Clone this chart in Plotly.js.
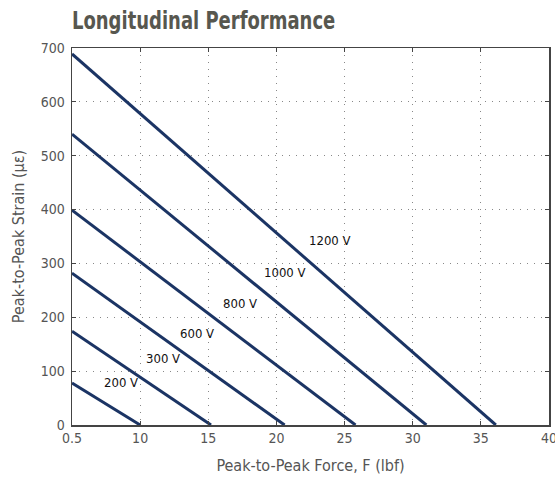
<!DOCTYPE html>
<html><head><meta charset="utf-8">
<script src="https://cdn.plot.ly/plotly-3.0.1.min.js"></script>
<style>body{margin:0;background:#fff}#c{width:555px;height:482px}</style>
</head><body><div id="c"></div>
<script>
// Voltage series: each line goes from left edge (x=5) to its x-intercept
const voltages = ["200 V","300 V","600 V","800 V","1000 V","1200 V"];
const startForce = [5, 5, 5, 5, 5, 5];
const startStrain = [78, 174, 282, 399, 540, 689];
const endForce = [10, 15.2, 20.6, 25.8, 31.0, 36.1];
const endStrain = [0, 0, 0, 0, 0, 0];
const labelForce = [8.6, 11.7, 14.2, 17.3, 20.6, 23.9];
const labelStrain = [78, 124, 169, 225, 284, 343];
const xTickVals = [5, 10, 15, 20, 25, 30, 35, 40];
const xTickText = ["0.5","10","15","20","25","30","35","40"];
const yTickVals = [0,100,200,300,400,500,600,700];

const font = "'DejaVu Sans Condensed', 'Liberation Sans Narrow', 'Liberation Sans', sans-serif";
const traces = voltages.map((v,i)=>({
  x:[startForce[i], endForce[i]], y:[startStrain[i], endStrain[i]],
  mode:'lines', line:{color:'#1b3464', width:3}, name:v, showlegend:false, hoverinfo:'skip'
}));
const annotations = voltages.map((v,i)=>({
  x:labelForce[i], y:labelStrain[i], text:v, showarrow:false,
  font:{family:font, size:13, color:'#111'}, xanchor:'center', yanchor:'middle'
}));
const axisCommon = {
  showline:true, linecolor:'#444', linewidth:1.5, mirror:'ticks',
  ticks:'inside', ticklen:4, tickcolor:'#444',
  showgrid:true, gridcolor:'#888', griddash:'1px,6px', gridwidth:1,
  zeroline:false, tickfont:{family:font, size:14, color:'#555'}, ticklabeloverflow:'allow'
};
const layout = {
  width:555, height:482,
  margin:{l:72, r:6, t:48, b:57},
  paper_bgcolor:'#fff', plot_bgcolor:'#fff',
  title:{text:'<b>Longitudinal Performance</b>', x:72/555, xanchor:'left', y:0.957, yanchor:'middle',
         font:{family:font, size:25, color:'#57574f'}},
  xaxis:Object.assign({}, axisCommon, {range:[5,40], tickvals:xTickVals, ticktext:xTickText,
         title:{text:'Peak-to-Peak Force, F (lbf)', font:{family:font, size:16, color:'#555'}, standoff:14}}),
  yaxis:Object.assign({}, axisCommon, {range:[0,700], tickvals:yTickVals, ticklabelstandoff:3,
         title:{text:'Peak-to-Peak Strain (με)', font:{family:font, size:16, color:'#555'}, standoff:12}}),
  annotations:annotations
};
Plotly.newPlot('c', traces, layout, {displayModeBar:false, staticPlot:true}).then(()=>{
  const t = document.querySelector('.gtitle');
  if (t) { const x0 = parseFloat(t.getAttribute('x')) || 72;
    t.setAttribute('transform', `translate(${x0},0) scale(0.8,1) translate(${-x0},0)`); }
});
</script>
</body></html>
